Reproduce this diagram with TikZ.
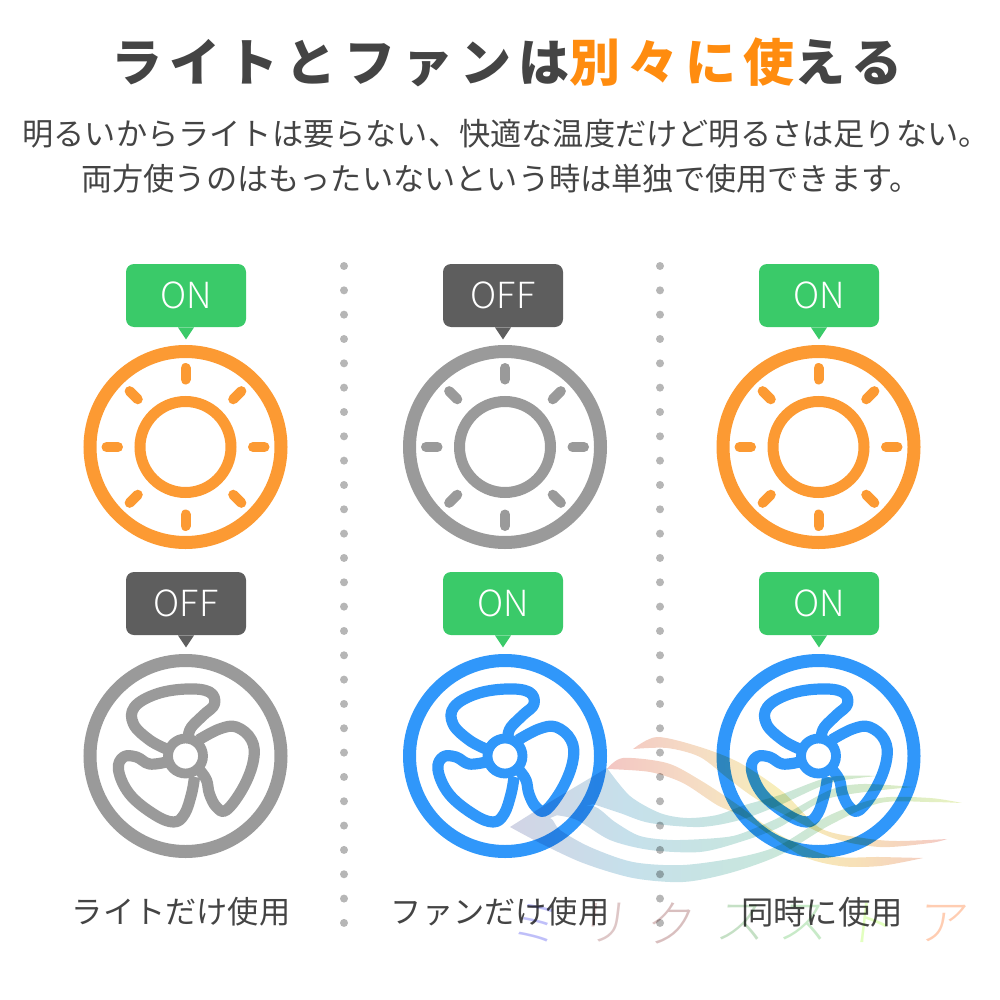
\documentclass[tikz,border=0pt]{standalone}
\usepackage{fontspec}
\setmainfont{Noto Sans CJK JP}
\newfontfamily\lightfont{Noto Sans CJK JP Light}
\usetikzlibrary{positioning}

\definecolor{inkgrey}{HTML}{444444}
\definecolor{titleorange}{HTML}{FF8C0F}
\definecolor{sunorange}{HTML}{FC9A33}
\definecolor{fanblue}{HTML}{3097FA}
\definecolor{offgrey}{HTML}{9A9A9A}
\definecolor{ongreen}{HTML}{3ACA69}
\definecolor{badgegrey}{HTML}{5E5E5E}
\definecolor{dotgrey}{HTML}{B6B6B6}
\definecolor{coola}{HTML}{D2D4E5}
\definecolor{coolb}{HTML}{C6E0EB}
\definecolor{coolc}{HTML}{C8E6DE}
\definecolor{coold}{HTML}{D3E9CB}
\definecolor{coole}{HTML}{EAF2C0}
\definecolor{warma}{HTML}{F3C6C3}
\definecolor{warmb}{HTML}{F5DCC4}
\definecolor{warmc}{HTML}{F7EEBA}
\definecolor{warmd}{HTML}{F7E0B8}
\definecolor{warme}{HTML}{F4CAC5}

\pgfdeclarehorizontalshading{wavecool}{100bp}{color(0bp)=(coola);color(25bp)=(coola);color(38bp)=(coolb);color(52bp)=(coolc);color(64bp)=(coold);color(75bp)=(coole);color(100bp)=(coole)}
\pgfdeclarehorizontalshading{wavewarm}{100bp}{color(0bp)=(warma);color(25bp)=(warma);color(38bp)=(warmb);color(50bp)=(warmc);color(62bp)=(warmd);color(75bp)=(warme);color(100bp)=(warme)}

% one sun icon: centre x, centre y, colour
\newcommand{\sunicon}[3]{
  \begin{scope}[shift={(#1,#2)},draw=#3]
    \draw[outerring] (0,0) circle[radius=95.5];
    \draw[innerring] (0,0) circle[radius=45.5];
    \foreach \a in {0,45,...,315}
      \draw[sunray] (\a:67.5) -- (\a:79);
  \end{scope}
}
% one fan icon: centre x, centre y, colour
\newcommand{\fanicon}[3]{
  \begin{scope}[shift={(#1,#2)},draw=#3]
    \draw[outerring] (0,0) circle[radius=95.5];
    \draw[hubring] (0,0) circle[radius=17.5];
    \draw[blade] plot[smooth,tension=.65] coordinates {(-19,-7) (-36,-16) (-52,-32) (-51,-49) (-29,-62) (1,-67) (24,-64) (29,-52) (18,-41) (6,-29) (3,-21)};
    \draw[blade] plot[smooth,tension=.65] coordinates {(13,-16) (34,-27) (51,-29) (66,-16) (68,4) (58,31) (41,54) (31,51) (24,38) (21,24) (14,14)};
    \draw[blade] plot[smooth,tension=.65] coordinates {(9,21) (6,38) (-1,58) (-12,66) (-32,58) (-56,38) (-67,14) (-62,1) (-49,1) (-36,8) (-19,6)};
  \end{scope}
}
% one badge with its pointer: name, centre x, centre y, colour, text
\newcommand{\statebadge}[5]{
  \node[badge,fill=#4] (#1) at (#2,#3) {#5};
  \fill[#4] ([xshift=-4pt]#1.south) -- ([yshift=-6pt]#1.south) -- ([xshift=4pt]#1.south) -- cycle;
}

\begin{document}
\begin{tikzpicture}
	[x=0.5pt,y=-0.5pt,
		outerring/.style={line width=6.5pt},
		innerring/.style={line width=5.5pt},
		hubring/.style={line width=4.9pt},
		sunray/.style={line width=5pt,line cap=round},
		blade/.style={line width=5.6pt,line join=round},
		badge/.style={rectangle,rounded corners=4pt,minimum width=60pt,minimum height=31.5pt,inner sep=0pt,text=white,font=\lightfont\fontsize{18}{20}\selectfont},
		bodytext/.style={inner sep=0pt,text=inkgrey,font=\fontsize{15.6}{18}\selectfont},
		marktext/.style={inner sep=0pt,xslant=.12,font=\lightfont\fontsize{25}{28}\selectfont}]

	\useasboundingbox (0,0) rectangle (1000,1000);

	\node[inner sep=0pt,text=inkgrey,font=\bfseries\fontsize{25.5}{30}\selectfont] (title) at (507,62)
		{\addfontfeature{LetterSpace=14}ライトとファンは\textcolor{titleorange}{別々に使}える};
	\node[bodytext] (line1) at (506,134) {明るいからライトは要らない、快適な温度だけど明るさは足りない。};
	\node[bodytext] (line2) at (501,179) {両方使うのはもったいないという時は単独で使用できます。};

	% dotted separators
	\foreach \x in {344,660}
		\foreach \n in {0,...,27}
			\fill[dotgrey] ({\x},{266+24.33*\n}) circle[radius=4];

	\statebadge{lighta}{186}{295.5}{ongreen}{ON}
	\statebadge{lightb}{503}{295.5}{badgegrey}{OFF}
	\statebadge{lightc}{819}{295.5}{ongreen}{ON}
	\statebadge{fana}{186}{603.5}{badgegrey}{OFF}
	\statebadge{fanb}{503}{603.5}{ongreen}{ON}
	\statebadge{fanc}{819}{603.5}{ongreen}{ON}

	\sunicon{185.5}{447}{sunorange}
	\sunicon{505}{447}{offgrey}
	\sunicon{818.5}{447}{sunorange}
	\fanicon{185.5}{756}{offgrey}
	\fanicon{505}{756}{fanblue}
	\fanicon{818.5}{756}{fanblue}

	\node[bodytext] (usea) at (181,912) {ライトだけ使用};
	\node[bodytext] (useb) at (500,912) {ファンだけ使用};
	\node[bodytext,font=\fontsize{16.2}{18}\selectfont] (usec) at (822,912) {同時に使用};

	% wave mark laid over everything
	\begin{scope}[blend mode=multiply]
		\path[shade,shading=wavecool]
			plot[smooth] coordinates {(510,827) (550,802) (607,768)}
			-- plot[smooth] coordinates {(607,768) (630,796) (660,813) (687,818) (717,815) (745,805) (780,795) (830,777) (877,776)}
			-- plot[smooth] coordinates {(877,776) (830,783) (780,805) (740,820) (700,827) (650,823) (620,813) (593,804)}
			-- (565,812) -- (550,818) -- cycle
			plot[smooth] coordinates {(565,812) (593,806) (615,822) (640,836) (673,840) (717,838) (740,834) (780,817) (830,790) (863,784) (913,787)}
			-- plot[smooth] coordinates {(913,787) (830,798) (780,827) (740,842) (700,852) (650,850) (610,840) (577,820) (555,815)}
			-- cycle
			plot[smooth] coordinates {(510,827) (530,822) (550,818) (560,830) (590,847) (633,862) (683,865) (740,857) (780,845) (830,815) (880,798) (930,798) (962,803)}
			-- plot[smooth] coordinates {(962,803) (930,802) (880,803) (830,825) (780,855) (730,873) (683,882) (633,878) (583,863) (540,843) (510,827)}
			-- cycle;
		\path[shade,shading=wavewarm]
			plot[smooth] coordinates {(633,749) (657,737) (700,747) (740,763) (783,792) (820,828) (863,838) (897,841) (947,839)}
			-- plot[smooth] coordinates {(947,839) (930,843) (880,847) (830,837) (763,803) (730,780) (700,757) (667,748) (633,749)}
			-- cycle
			plot[smooth] coordinates {(607,769) (623,758) (667,763) (700,780) (735,803) (780,835) (830,856) (880,857) (923,858)}
			-- plot[smooth] coordinates {(923,858) (880,866) (840,866) (800,855) (745,818) (717,805) (683,783) (650,772) (607,769)}
			-- cycle;
		\node[marktext,text=black!10!blue!25] (marka) at (537,923) {ミ};
		\node[marktext,text=red!25!gray!35] (markb) at (606,923) {リ};
		\node[marktext,text=red!25!gray!40] (markc) at (672,923) {ク};
		\node[marktext,text=green!30!gray!35] (markd) at (742,923) {ス};
		\node[marktext,text=green!45!gray!30] (marke) at (805,923) {ス};
		\node[marktext,text=green!45!yellow!25] (markf) at (871,923) {ト};
		\node[marktext,text=red!30!orange!30] (markg) at (944,923) {ア};
	\end{scope}
\end{tikzpicture}
\end{document}
